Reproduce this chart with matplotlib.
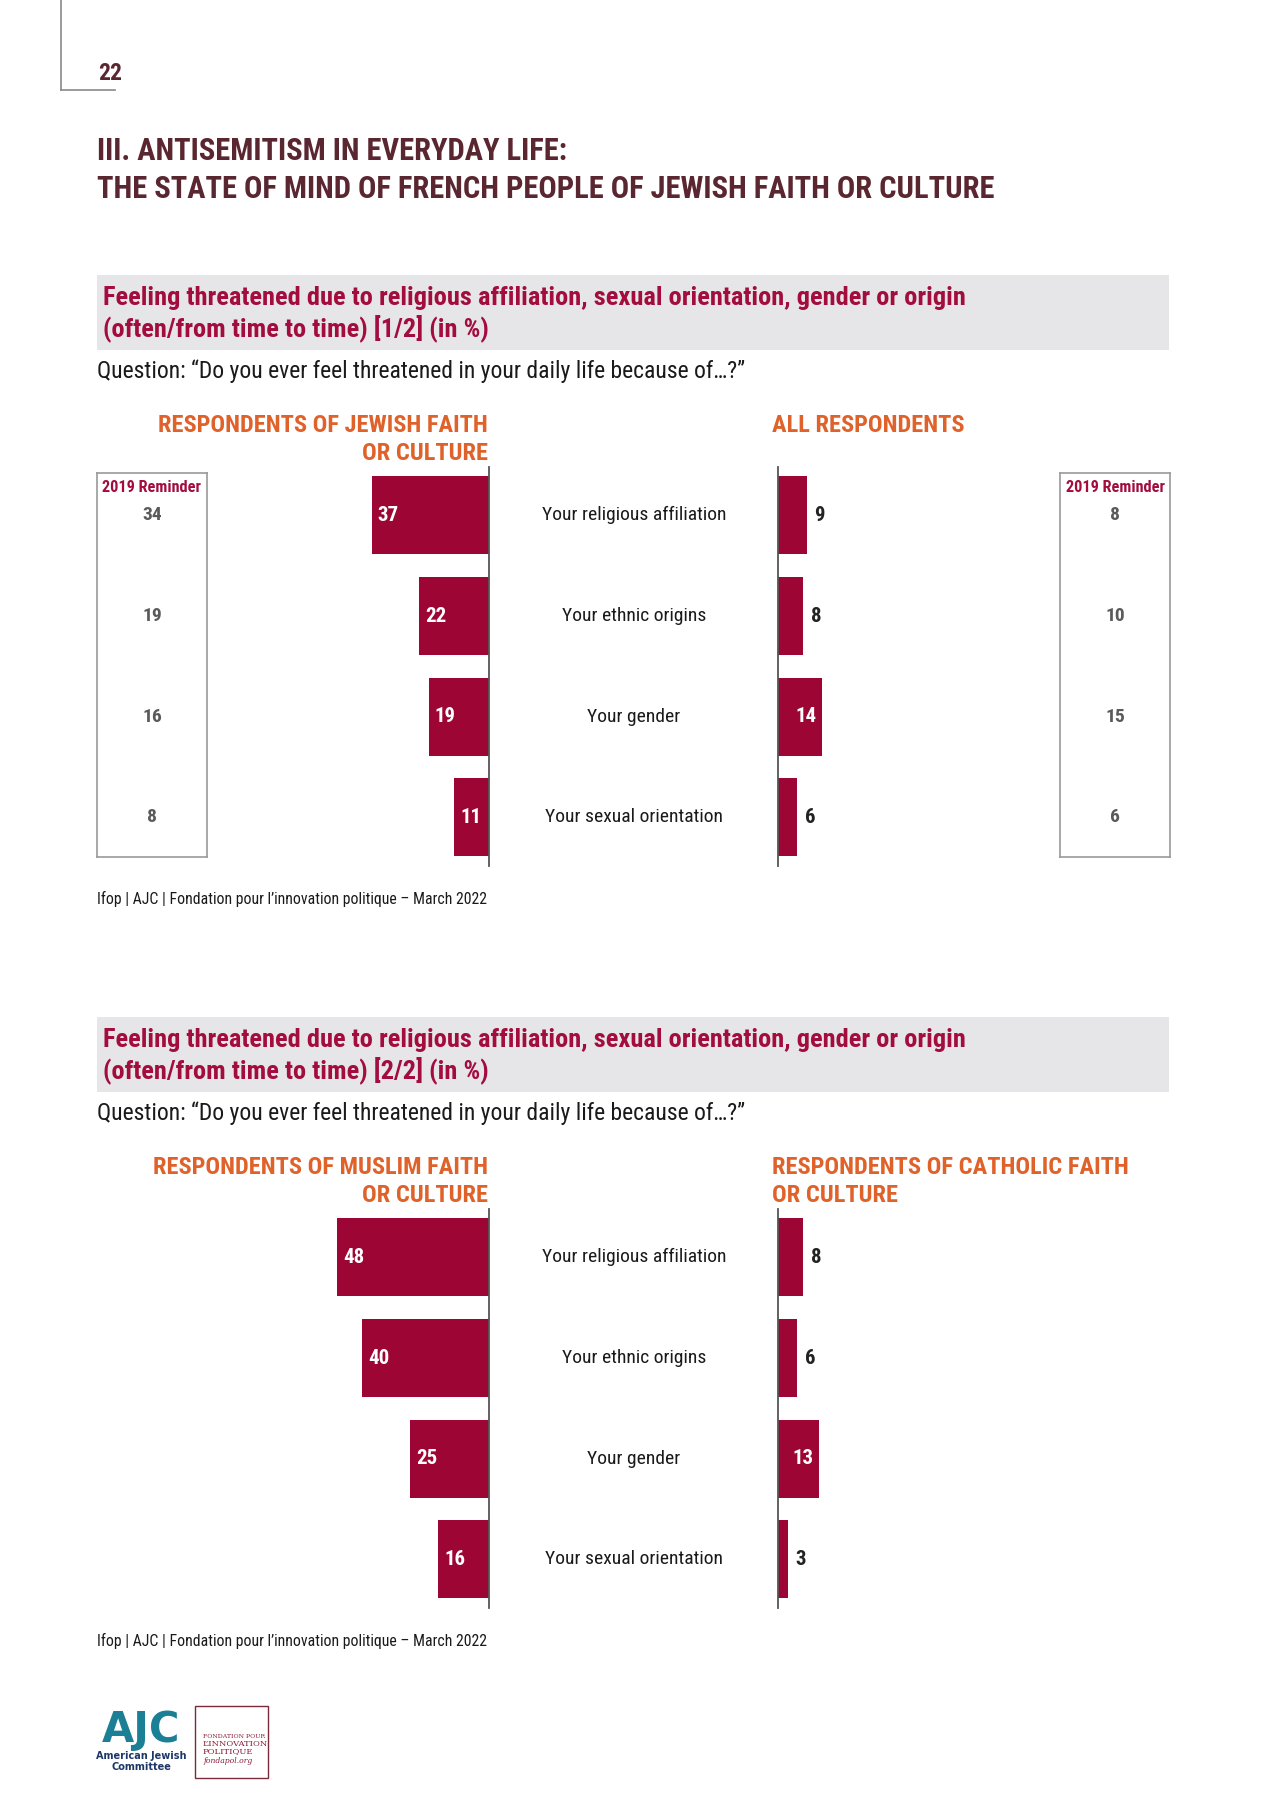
import matplotlib
matplotlib.use("Agg")
import matplotlib.pyplot as plt
from matplotlib.patches import Rectangle
from matplotlib.lines import Line2D
import matplotlib.transforms as mtransforms

# ---------------- data ----------------
categories = ["Your religious affiliation", "Your ethnic origins",
              "Your gender", "Your sexual orientation"]
jewish_2022 = [37, 22, 19, 11]
jewish_2019 = [34, 19, 16, 8]
all_2022 = [9, 8, 14, 6]
all_2019 = [8, 10, 15, 6]
muslim_2022 = [48, 40, 25, 16]
catholic_2022 = [8, 6, 13, 3]

page_number = "22"
title_lines = ["III. ANTISEMITISM IN EVERYDAY LIFE:",
               "THE STATE OF MIND OF FRENCH PEOPLE OF JEWISH FAITH OR CULTURE"]
header_1 = ["Feeling threatened due to religious affiliation, sexual orientation, gender or origin",
            "(often/from time to time) [1/2] (in %)"]
header_2 = ["Feeling threatened due to religious affiliation, sexual orientation, gender or origin",
            "(often/from time to time) [2/2] (in %)"]
question = "Question: \u201cDo you ever feel threatened in your daily life because of\u2026?\u201d"
source = "Ifop | AJC | Fondation pour l\u2019innovation politique \u2013 March 2022"
reminder_label = "2019 Reminder"

# ---------------- style ----------------
FONT = ['Liberation Sans Narrow', 'Roboto Condensed', 'DejaVu Sans Condensed', 'DejaVu Sans']
plt.rcParams['font.family'] = FONT

BAR = '#9d0634'
CRIMSON = '#a30d3e'
ORANGE = '#e0622b'
MAROON = '#5a2630'
GRAY_BG = '#e6e6e8'
AXIS = '#555555'

W, H = 1280, 1809
fig = plt.figure(figsize=(W / 100, H / 100), dpi=100)


def fx(x):
    return x / W


def fy(y):
    return 1 - y / H


def add_ax(x0, y0, x1, y1):
    return fig.add_axes([fx(x0), fy(y1), (x1 - x0) / W, (y1 - y0) / H])


def ftext(x, y, s, **kw):
    fig.text(fx(x), fy(y), s, **kw)


# page number decoration
fig.add_artist(Line2D([fx(61), fx(61)], [fy(0), fy(90)], color='#8a8a8a', lw=1.2,
                      transform=fig.transFigure))
fig.add_artist(Line2D([fx(61), fx(115)], [fy(90), fy(90)], color='#8a8a8a', lw=1.2,
                      transform=fig.transFigure))
ftext(98, 74, page_number, fontsize=17, fontweight='bold', color=MAROON, va='center')

# main title
ftext(97, 151, title_lines[0], fontsize=22, fontweight='bold', color=MAROON, va='center')
ftext(97, 189, title_lines[1], fontsize=22, fontweight='bold', color=MAROON, va='center')

SCALE = 3.17       # px per percentage point
XMAX = 60
AXW = XMAX * SCALE
LEFT_AXIS_X = 489
RIGHT_AXIS_X = 778
ROW0 = 515.3
ROW_STEP = 100.7


def section(dy, header, left_vals, right_vals, left_title, right_title,
            left_rem=None, right_rem=None):
    # header box
    fig.add_artist(Rectangle((fx(97), fy(350 + dy)), (1169 - 97) / W, 75 / H,
                             transform=fig.transFigure, facecolor=GRAY_BG,
                             edgecolor='none'))
    ftext(103, 298 + dy, header[0], fontsize=19, fontweight='bold', color=CRIMSON, va='center')
    ftext(103, 329 + dy, header[1], fontsize=19, fontweight='bold', color=CRIMSON, va='center')
    ftext(97, 371 + dy, question, fontsize=17, color='#1a1a1a', va='center')

    # panel titles
    for i, line in enumerate(left_title):
        ftext(488, 425 + dy + 28 * i, line, fontsize=17.6, fontweight='bold',
              color=ORANGE, va='center', ha='right')
    for i, line in enumerate(right_title):
        ftext(772, 425 + dy + 28 * i, line, fontsize=17.6, fontweight='bold',
              color=ORANGE, va='center', ha='left')

    top = 467 + dy
    bot = 866 + dy
    y_top = (top - (ROW0 + dy)) / ROW_STEP
    y_bot = (bot - (ROW0 + dy)) / ROW_STEP
    rows = list(range(len(categories)))

    # left bars
    axl = add_ax(LEFT_AXIS_X - AXW, top, LEFT_AXIS_X, bot)
    axl.barh(rows, left_vals, height=0.775, color=BAR)
    axl.set_xlim(XMAX, 0)
    axl.set_ylim(y_bot, y_top)
    axl.axis('off')
    axl.plot([0, 0], [y_top, y_bot], color=AXIS, lw=1.3, clip_on=False)
    for r, v in zip(rows, left_vals):
        axl.annotate(str(v), (v, r), xytext=(6, 0), textcoords='offset pixels',
                     ha='left', va='center', color='white', fontsize=15,
                     fontweight='bold')

    # right bars
    axr = add_ax(RIGHT_AXIS_X, top, RIGHT_AXIS_X + AXW, bot)
    axr.barh(rows, right_vals, height=0.775, color=BAR)
    axr.set_xlim(0, XMAX)
    axr.set_ylim(y_bot, y_top)
    axr.axis('off')
    axr.plot([0, 0], [y_top, y_bot], color=AXIS, lw=1.3, clip_on=False)
    for r, v in zip(rows, right_vals):
        if v >= 10:
            axr.annotate(str(v), (v, r), xytext=(-6, 0), textcoords='offset pixels',
                         ha='right', va='center', color='white', fontsize=15,
                         fontweight='bold')
        else:
            axr.annotate(str(v), (v, r), xytext=(8, 0), textcoords='offset pixels',
                         ha='left', va='center', color='#222222', fontsize=15,
                         fontweight='bold')

    # category labels in the middle
    trans = mtransforms.blended_transform_factory(fig.transFigure, axl.transData)
    for r, c in zip(rows, categories):
        fig.text(fx(634), r, c, transform=trans, ha='center', va='center',
                 fontsize=14, color='#1a1a1a')

    # 2019 reminder boxes
    def reminder(x0, x1, vals):
        rt = (473 + dy - (ROW0 + dy)) / ROW_STEP
        rb = (857 + dy - (ROW0 + dy)) / ROW_STEP
        ax = add_ax(x0, 473 + dy, x1, 857 + dy)
        ax.set_xlim(0, 1)
        ax.set_ylim(rb, rt)
        ax.set_xticks([])
        ax.set_yticks([])
        for s in ax.spines.values():
            s.set_color('#9a9a9a')
            s.set_linewidth(1.2)
        ax.text(0.5, (488 - ROW0) / ROW_STEP, reminder_label, ha='center', va='center',
                fontsize=11.7, fontweight='bold', color=CRIMSON)
        for r, v in zip(rows, vals):
            ax.text(0.5, r, str(v), ha='center', va='center', fontsize=14,
                    fontweight='bold', color='#5a5a5a')

    if left_rem is not None:
        reminder(97, 207, left_rem)
    if right_rem is not None:
        reminder(1060, 1170, right_rem)

    ftext(97, 899 + dy, source, fontsize=11.3, color='#1a1a1a', va='center')


section(0, header_1, jewish_2022, all_2022,
        ["RESPONDENTS OF JEWISH FAITH", "OR CULTURE"], ["ALL RESPONDENTS"],
        jewish_2019, all_2019)
section(742, header_2, muslim_2022, catholic_2022,
        ["RESPONDENTS OF MUSLIM FAITH", "OR CULTURE"],
        ["RESPONDENTS OF CATHOLIC FAITH", "OR CULTURE"])

# logos (as text)
ftext(141, 1730, "AJC", fontsize=30, fontweight='bold', color='#1b8096',
      ha='center', va='center', family=['DejaVu Sans'])
ftext(141, 1756, "American Jewish", fontsize=7, fontweight='bold', color='#1d3766',
      ha='center', va='center', family=['DejaVu Sans'])
ftext(141, 1767, "Committee", fontsize=7, fontweight='bold', color='#1d3766',
      ha='center', va='center', family=['DejaVu Sans'])
fig.add_artist(Rectangle((fx(195), fy(1778)), 73 / W, 72 / H, transform=fig.transFigure,
                         facecolor='white', edgecolor='#7a2b3a', lw=1.0))
for yy, s, sz, st in [(1737, "FONDATION POUR", 4.5, 'normal'),
                      (1744, "L\u2019INNOVATION", 6, 'normal'),
                      (1751, "POLITIQUE", 6, 'normal'),
                      (1761, "fondapol.org", 5.5, 'italic')]:
    ftext(203, yy, s, fontsize=sz, color='#8a1b3a', ha='left', va='center',
          family=['DejaVu Serif'], style=st)

fig.savefig("out.png", dpi=100, facecolor='white')
